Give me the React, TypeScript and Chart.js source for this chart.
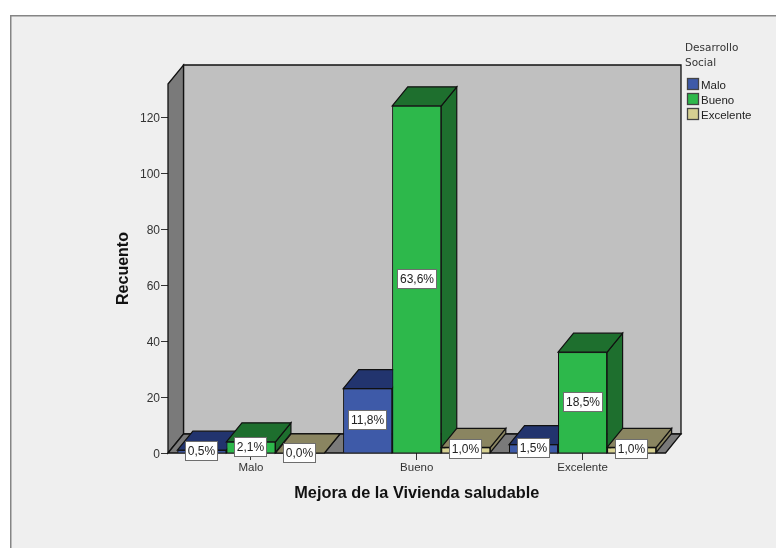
import React, { useEffect, useRef } from "react";
import { Chart, registerables } from "chart.js";

Chart.register(...registerables);

const categories = ["Malo", "Bueno", "Excelente"];
const seriesNames = ["Malo", "Bueno", "Excelente"];
const malo = [1, 23, 3];
const bueno = [4, 124, 36];
const excelente = [0, 2, 2];
const percentLabels = [
  ["0,5%", "11,8%", "1,5%"],
  ["2,1%", "63,6%", "18,5%"],
  ["0,0%", "1,0%", "1,0%"],
];
const legendTitle = ["Desarrollo", "Social"];
const xTitle = "Mejora de la Vivienda saludable";
const yTitle = "Recuento";

const frontColors = ["#3e5aa8", "#2db84b", "#d6d092"];
const shadeColors = ["#22346e", "#1e6f2e", "#8a8561"];
const DX = 15.5;
const DY = 19;
const SANS = "'Liberation Sans', Arial, sans-serif";

const bars3d = {
  id: "bars3d",
  beforeDraw(chart: any) {
    const { ctx, width, height } = chart;
    ctx.save();
    ctx.fillStyle = "#ffffff";
    ctx.fillRect(0, 0, width, height);
    ctx.fillStyle = "#efefef";
    ctx.fillRect(11, 16, width - 11, height - 16);
    ctx.fillStyle = "#858585";
    ctx.fillRect(10, 15, width - 10, 1.5);
    ctx.fillRect(10, 15, 1.5, height - 15);
    ctx.restore();
  },
  beforeDatasetsDraw(chart: any) {
    const { ctx, chartArea: a } = chart;
    const poly = (pts: number[][], fill: string) => {
      ctx.beginPath();
      pts.forEach((p, i) => (i ? ctx.lineTo(p[0], p[1]) : ctx.moveTo(p[0], p[1])));
      ctx.closePath();
      ctx.fillStyle = fill;
      ctx.fill();
      ctx.stroke();
    };
    ctx.save();
    ctx.strokeStyle = "#111";
    ctx.lineWidth = 1.3;
    poly([[a.left + DX, a.top - DY], [a.right + DX, a.top - DY], [a.right + DX, a.bottom - DY], [a.left + DX, a.bottom - DY]], "#c0c0c0");
    poly([[a.left, a.top], [a.left + DX, a.top - DY], [a.left + DX, a.bottom - DY], [a.left, a.bottom]], "#7a7a7a");
    poly([[a.left, a.bottom], [a.left + DX, a.bottom - DY], [a.right + DX, a.bottom - DY], [a.right, a.bottom]], "#7a7a7a");
    ctx.restore();
  },
  afterDatasetsDraw(chart: any) {
    const { ctx } = chart;
    const poly = (pts: number[][], fill: string) => {
      ctx.beginPath();
      pts.forEach((p, i) => (i ? ctx.lineTo(p[0], p[1]) : ctx.moveTo(p[0], p[1])));
      ctx.closePath();
      ctx.fillStyle = fill;
      ctx.fill();
      ctx.stroke();
    };
    ctx.save();
    ctx.strokeStyle = "#111";
    ctx.lineWidth = 1.2;
    // painter's order: left to right, so the right-hand bar covers its neighbour
    chart.data.datasets.forEach((_: any, d: number) => {
      chart.getDatasetMeta(d).data.forEach((el: any) => {
        const l = el.x - el.width / 2;
        const r = el.x + el.width / 2;
        const t = el.y;
        const b = el.base;
        poly([[r, t], [r + DX, t - DY], [r + DX, b - DY], [r, b]], shadeColors[d]);
        poly([[l, t], [l + DX, t - DY], [r + DX, t - DY], [r, t]], shadeColors[d]);
        if (b - t > 0.5) el.draw(ctx);
      });
    });
    // value boxes
    ctx.font = `12px ${SANS}`;
    ctx.textAlign = "center";
    ctx.textBaseline = "middle";
    chart.data.datasets.forEach((_: any, d: number) => {
      chart.getDatasetMeta(d).data.forEach((el: any, i: number) => {
        const txt = percentLabels[d][i];
        const w = Math.round(ctx.measureText(txt).width) + 4;
        const h = 18;
        const cx = el.x;
        const cy = (el.y + el.base) / 2 - 0.5;
        const x = Math.round(cx - w / 2);
        const y = Math.round(cy - h / 2);
        ctx.fillStyle = "#6e6e6e";
        ctx.fillRect(x - 1, y - 1, w + 2, h + 2);
        ctx.fillStyle = "#ffffff";
        ctx.fillRect(x, y, w, h);
        ctx.fillStyle = "#222";
        ctx.fillText(txt, x + w / 2, y + h / 2 + 0.5);
      });
    });
    ctx.restore();
  },
  afterDraw(chart: any) {
    const { ctx } = chart;
    ctx.save();
    ctx.textAlign = "left";
    ctx.textBaseline = "middle";
    ctx.fillStyle = "#333";
    ctx.font = "10.5px 'DejaVu Sans', sans-serif";
    legendTitle.forEach((t, i) => ctx.fillText(t, 685, 48.5 + i * 14.5));
    chart.data.datasets.forEach((ds: any, i: number) => {
      const y = 78 + i * 15;
      ctx.fillStyle = ds.backgroundColor;
      ctx.fillRect(687.5, y + 0.5, 11, 11);
      ctx.strokeStyle = "#444";
      ctx.lineWidth = 1.3;
      ctx.strokeRect(687.5, y + 0.5, 11, 11);
      ctx.fillStyle = "#222";
      ctx.font = `11.5px ${SANS}`;
      ctx.fillText(ds.label, 701, y + 7.5);
    });
    ctx.restore();
  },
};

export default function App() {
  const ref = useRef<HTMLCanvasElement | null>(null);
  useEffect(() => {
    document.body.style.margin = "0";
    const chart = new Chart(ref.current as HTMLCanvasElement, {
      type: "bar",
      data: {
        labels: categories,
        datasets: [malo, bueno, excelente].map((data, i) => ({
          label: seriesNames[i],
          data,
          backgroundColor: frontColors[i],
          borderColor: "#111",
          borderWidth: 1,
          categoryPercentage: 0.887,
          barPercentage: 1,
        })),
      },
      options: {
        responsive: false,
        animation: false,
        events: [],
        layout: { padding: { left: 0, top: 84, right: 110.5, bottom: 0 } },
        plugins: { legend: { display: false }, tooltip: { enabled: false } },
        scales: {
          x: {
            grid: { display: true, offset: false, drawOnChartArea: false, drawTicks: true, tickColor: "#333", tickLength: 7, color: "#333" },
            border: { display: false },
            ticks: { color: "#333", font: { size: 11.5, family: SANS }, maxRotation: 0, padding: 1 },
            title: { display: true, text: xTitle, color: "#111", font: { size: 16.3, weight: "bold", family: SANS }, padding: { top: 0, bottom: 45 } },
            afterFit(s: any) { s.height = 95; },
          },
          y: {
            min: 0,
            max: 131.8,
            grid: { display: true, drawOnChartArea: false, drawTicks: true, tickColor: "#333", tickLength: 7, color: "#333" },
            border: { display: false },
            ticks: { stepSize: 20, includeBounds: false, color: "#333", font: { size: 12, family: SANS }, padding: 1, labelOffset: 1.5 },
            title: { display: true, text: yTitle, color: "#111", font: { size: 16, weight: "bold", family: SANS }, padding: { top: 113.5, bottom: 0 } },
            afterFit(s: any) { s.width = 168; },
          },
        },
      },
      plugins: [bars3d],
    } as any);
    return () => chart.destroy();
  }, []);
  return <canvas ref={ref} width={776} height={548} style={{ display: "block", width: 776, height: 548 }} />;
}
